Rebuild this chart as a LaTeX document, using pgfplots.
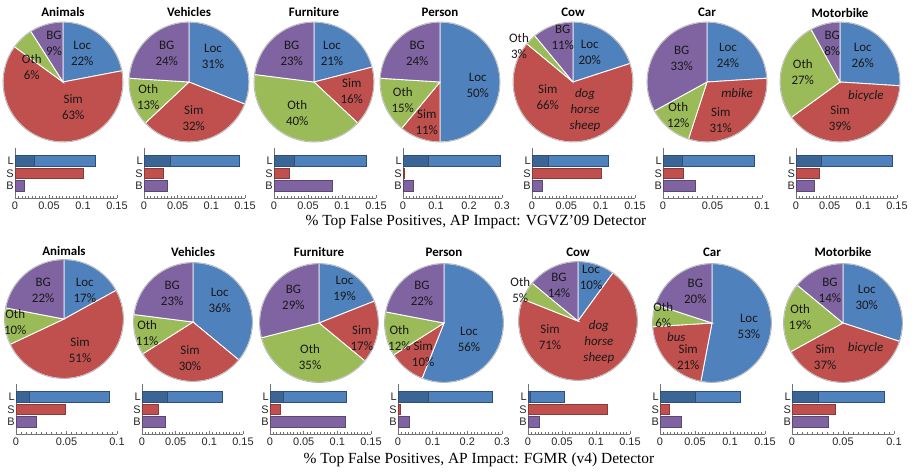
\documentclass[border=0pt]{standalone}
\usepackage{fontspec}
\setmainfont{Liberation Serif}
\newfontfamily\calfont{Carlito}
\newfontfamily\arialfont{Liberation Sans}
\usepackage{pgfplots}
\pgfplotsset{compat=1.18}
\definecolor{cLoc}{HTML}{4F81BD}
\definecolor{cLocD}{HTML}{3B6594}
\definecolor{cLocE}{HTML}{2F4F77}
\definecolor{cSim}{HTML}{C0504D}
\definecolor{cSimE}{HTML}{8A3A38}
\definecolor{cOth}{HTML}{9BBB59}
\definecolor{cBG}{HTML}{8064A2}
\definecolor{cBGE}{HTML}{5A4772}

\pgfplotsset{
 pieax/.style={scale only axis, xmin=-1,xmax=1,ymin=-1,ymax=1, hide axis, clip=false, anchor=center},
 pieslice/.style={draw=white, line width=0.9bp, samples=40},
 barax/.style={xbar, bar shift=0pt, bar width=0.84, scale only axis, height=50bp,
   xmin=0, ymin=-0.96, ymax=3.04, axis lines*=left,
   axis line style={-, black!55, line width=0.6bp},
   ytick={0,1,2}, yticklabels={B,S,L}, ytick style={draw=none},
   tick align=inside, major tick length=3.5bp, minor tick length=2bp, minor x tick num=9,
   xtick style={black!55, line width=0.5bp}, scaled x ticks=false,
   xticklabel style={/pgf/number format/fixed, /pgf/number format/precision=2,
     /pgf/number format/assume math mode=true, font=\arialfont\fontsize{11}{11}\selectfont, text=black!85},
   yticklabel style={font=\arialfont\fontsize{11}{11}\selectfont, text=black!85, inner sep=1bp},
   anchor=south west},
}

\newcommand\lab[3]{\node[align=center, font=\calfont\fontsize{13}{16}\selectfont, text=black!90, inner sep=0pt] at (axis cs:#1,#2) {#3};}
\newcommand\labi[3]{\node[align=center, font=\calfont\itshape\fontsize{13}{16}\selectfont, text=black!90, inner sep=0pt] at (axis cs:#1,#2) {#3};}

% #1 cx  #2 cy  #3 diameter  #4 Loc #5 Sim #6 Oth #7 BG  #8 labels
\newcommand{\pie}[8]{%
\pgfmathsetmacro\aB{90-3.6*#4}%
\pgfmathsetmacro\aC{\aB-3.6*#5}%
\pgfmathsetmacro\aD{\aC-3.6*#6}%
\begin{axis}[pieax, width=#3bp, height=#3bp, at={(#1bp,-#2bp)}]
\addplot[pieslice, fill=cLoc, domain=\aB:90] ({cos(x)},{sin(x)}) -- (axis cs:0,0) -- cycle;
\addplot[pieslice, fill=cSim, domain=\aC:\aB] ({cos(x)},{sin(x)}) -- (axis cs:0,0) -- cycle;
\addplot[pieslice, fill=cOth, domain=\aD:\aC] ({cos(x)},{sin(x)}) -- (axis cs:0,0) -- cycle;
\addplot[pieslice, fill=cBG, domain=-270:\aD] ({cos(x)},{sin(x)}) -- (axis cs:0,0) -- cycle;
\addplot[draw=black!28, line width=0.8bp, domain=0:360, samples=120] ({cos(x)},{sin(x)});
#8
\end{axis}}

% #1 xleft #2 ybottom #3 width #4 xmax #5 xticks #6 Ldark #7 Ltotal #8 S #9 B
\newcommand{\bars}[9]{%
\begin{axis}[barax, at={(#1bp,-#2bp)}, width=#3bp, xmax=#4, xtick={#5}]
\addplot[fill=cLoc, draw=cLocE, line width=0.6bp] coordinates {(#7,2)};
\addplot[fill=cLocD, draw=cLocE, line width=0.6bp] coordinates {(#6,2)};
\addplot[fill=cSim, draw=cSimE, line width=0.6bp] coordinates {(#8,1)};
\addplot[fill=cBG, draw=cBGE, line width=0.6bp] coordinates {(#9,0)};
\end{axis}}

\newcommand\ttl[3]{\node[font=\calfont\bfseries\fontsize{13}{15}\selectfont, text=black] at (#1bp,-#2bp) {#3};}

\begin{document}
\begin{tikzpicture}
\useasboundingbox (0,0) rectangle (915bp,-472bp);

% ---------- Row 1: VGVZ'09 ----------
\ttl{63}{12}{Animals}\ttl{189}{12}{Vehicles}\ttl{314}{12}{Furniture}\ttl{440}{12}{Person}
\ttl{573}{12}{Cow}\ttl{707}{12}{Car}\ttl{840}{13}{Motorbike}

\pie{63}{82}{120}{22}{63}{6}{9}{\lab{0.32}{0.48}{Loc\\22\%}\lab{0.17}{-0.42}{Sim\\63\%}\lab{-0.52}{0.25}{Oth\\6\%}\lab{-0.15}{0.65}{BG\\9\%}}
\pie{189}{82}{120}{31}{32}{13}{24}{\lab{0.4}{0.42}{Loc\\31\%}\lab{0.08}{-0.6}{Sim\\32\%}\lab{-0.68}{-0.25}{Oth\\13\%}\lab{-0.37}{0.48}{BG\\24\%}}
\pie{314}{82}{120}{21}{16}{40}{23}{\lab{0.3}{0.48}{Loc\\21\%}\lab{0.63}{-0.15}{Sim\\16\%}\lab{-0.28}{-0.52}{Oth\\40\%}\lab{-0.37}{0.48}{BG\\23\%}}
\pie{440}{82}{120}{50}{11}{15}{24}{\lab{0.63}{-0.05}{Loc\\50\%}\lab{-0.22}{-0.67}{Sim\\11\%}\lab{-0.62}{-0.3}{Oth\\15\%}\lab{-0.38}{0.48}{BG\\24\%}}
\pie{573}{82}{120}{20}{66}{3}{11}{\lab{0.28}{0.5}{Loc\\20\%}\lab{-0.17}{0.75}{BG\\11\%}\lab{-0.9}{0.6}{Oth\\3\%}\lab{-0.42}{-0.25}{Sim\\66\%}\labi{0.2}{-0.47}{dog\\horse\\sheep}}
\pie{707}{82}{120}{24}{31}{12}{33}{\lab{0.35}{0.45}{Loc\\24\%}\labi{0.5}{-0.18}{mbike}\lab{0.23}{-0.63}{Sim\\31\%}\lab{-0.48}{-0.55}{Oth\\12\%}\lab{-0.42}{0.4}{BG\\33\%}}
\pie{840}{82}{120}{26}{39}{27}{8}{\lab{0.38}{0.45}{Loc\\26\%}\labi{0.43}{-0.23}{bicycle}\lab{0}{-0.6}{Sim\\39\%}\lab{-0.62}{0.17}{Oth\\27\%}\lab{-0.13}{0.65}{BG\\8\%}}

\bars{15}{198}{102}{0.15}{0,0.05,0.1,0.15}{0.029}{0.118}{0.101}{0.014}
\bars{144}{198}{101}{0.15}{0,0.05,0.1,0.15}{0.039}{0.142}{0.029}{0.034}
\bars{274}{198}{102}{0.15}{0,0.05,0.1,0.15}{0.030}{0.135}{0.022}{0.086}
\bars{403}{198}{99}{0.3}{0,0.1,0.2,0.3}{0.078}{0.296}{0.003}{0.032}
\bars{532}{198}{103}{0.15}{0,0.05,0.1,0.15}{0.024}{0.111}{0.101}{0.0145}
\bars{663}{198}{99}{0.1}{0,0.05,0.1}{0.0196}{0.092}{0.020}{0.033}
\bars{796}{198}{101}{0.15}{0,0.05,0.1,0.15}{0.038}{0.143}{0.034}{0.027}

\node[font=\fontsize{15.5}{18}\selectfont] at (476bp,-222bp) {\% Top False Positives, AP Impact: VGVZ’09 Detector};

% ---------- Row 2: FGMR (v4) ----------
\ttl{64}{251}{Animals}\ttl{193}{252}{Vehicles}\ttl{319}{252}{Furniture}\ttl{444}{252}{Person}
\ttl{578}{252}{Cow}\ttl{712}{252}{Car}\ttl{843}{252}{Motorbike}

\pie{64}{319}{119}{17}{51}{10}{22}{\lab{0.35}{0.48}{Loc\\17\%}\lab{0.27}{-0.52}{Sim\\51\%}\lab{-0.82}{-0.05}{Oth\\10\%}\lab{-0.35}{0.48}{BG\\22\%}}
\pie{193}{322}{119}{36}{30}{11}{23}{\lab{0.45}{0.37}{Loc\\36\%}\lab{-0.05}{-0.6}{Sim\\30\%}\lab{-0.77}{-0.18}{Oth\\11\%}\lab{-0.35}{0.48}{BG\\23\%}}
\pie{319}{323}{119}{19}{17}{35}{29}{\lab{0.43}{0.58}{Loc\\19\%}\lab{0.72}{-0.25}{Sim\\17\%}\lab{-0.15}{-0.58}{Oth\\35\%}\lab{-0.43}{0.43}{BG\\29\%}}
\pie{444}{323}{119}{56}{10}{12}{22}{\lab{0.42}{-0.28}{Loc\\56\%}\lab{-0.35}{-0.53}{Sim\\10\%}\lab{-0.75}{-0.25}{Oth\\12\%}\lab{-0.37}{0.5}{BG\\22\%}}
\pie{578}{321}{119}{10}{71}{5}{14}{\lab{0.22}{0.73}{Loc\\10\%}\lab{-0.32}{0.6}{BG\\14\%}\lab{-0.97}{0.52}{Oth\\5\%}\lab{-0.47}{-0.27}{Sim\\71\%}\labi{0.35}{-0.35}{dog\\horse\\sheep}}
\pie{712}{323}{119}{53}{21}{6}{20}{\lab{0.62}{-0.05}{Loc\\53\%}\lab{-0.28}{0.53}{BG\\20\%}\lab{-0.82}{0.13}{Oth\\6\%}\labi{-0.6}{-0.23}{bus}\lab{-0.4}{-0.58}{Sim\\21\%}}
\pie{843}{323}{119}{30}{37}{19}{14}{\lab{0.4}{0.43}{Loc\\30\%}\labi{0.38}{-0.42}{bicycle}\lab{-0.3}{-0.58}{Sim\\37\%}\lab{-0.72}{0.1}{Oth\\19\%}\lab{-0.22}{0.55}{BG\\14\%}}

\bars{16}{434}{101}{0.1}{0,0.05,0.1}{0.0134}{0.092}{0.0485}{0.020}
\bars{142}{434}{101}{0.15}{0,0.05,0.1,0.15}{0.038}{0.119}{0.024}{0.035}
\bars{270}{434}{101}{0.15}{0,0.05,0.1,0.15}{0.020}{0.113}{0.016}{0.112}
\bars{398}{434}{104}{0.3}{0,0.1,0.2,0.3}{0.088}{0.271}{0.007}{0.032}
\bars{528}{434}{102}{0.15}{0,0.05,0.1,0.15}{0.0034}{0.053}{0.116}{0.017}
\bars{660}{434}{105}{0.15}{0,0.05,0.1,0.15}{0.051}{0.115}{0.013}{0.031}
\bars{792}{434}{102}{0.1}{0,0.05,0.1}{0.026}{0.090}{0.042}{0.036}

\node[font=\fontsize{15.5}{18}\selectfont] at (479bp,-460bp) {\% Top False Positives, AP Impact: FGMR (v4) Detector};
\end{tikzpicture}
\end{document}
